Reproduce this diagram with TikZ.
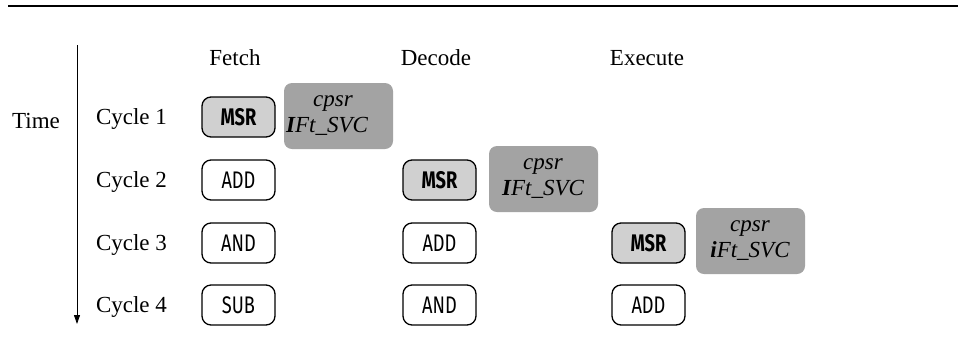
\documentclass[tikz,border=0pt]{standalone}
\usepackage{fontspec}
\setmainfont{Liberation Serif}
\newfontfamily\boxfont[FakeStretch=0.76]{Fira Sans}
\usetikzlibrary{arrows.meta}
\definecolor{msrfill}{HTML}{D0D0D0}
\definecolor{cpsrfill}{HTML}{A3A3A3}
\begin{document}
\begin{tikzpicture}[x=1pt,y=-1pt,
  lbl/.style={font=\fontsize{23}{27}\selectfont, inner sep=0pt},
  instr/.style={draw, line width=1.3pt, rounded corners=9pt, minimum width=73pt, minimum height=40pt, inner sep=0pt, font=\boxfont\fontsize{24}{26}\selectfont},
  msr/.style={instr, fill=msrfill, font=\boxfont\bfseries\fontsize{24}{26}\selectfont},
  cpsrbox/.style={fill=cpsrfill, rounded corners=8pt, minimum width=109pt, minimum height=66pt, inner sep=0pt},
  cpsrtxt/.style={font=\itshape\fontsize{23}{27}\selectfont, align=center, inner sep=0pt}
]
\useasboundingbox (0,0) rectangle (958,360);
% top rule
\coordinate (ruleL) at (8,6);
\coordinate (ruleR) at (958,6);
\draw[line width=1.6pt] (ruleL) -- (ruleR);
% time axis
\coordinate (axTop) at (77,45);
\coordinate (axBot) at (77,324);
\draw[line width=0.9pt, -{Triangle[length=9pt,width=6pt]}] (axTop) -- (axBot);
\node[lbl] (time) at (36,121) {Time};
% headers
\node[lbl] (hF) at (235,58) {Fetch};
\node[lbl] (hD) at (436,58) {Decode};
\node[lbl] (hE) at (647,58) {Execute};
% cycle labels
\node[lbl] (c1) at (131.5,119) {Cycle 1};
\node[lbl] (c2) at (131.5,182) {Cycle 2};
\node[lbl] (c3) at (131.5,245) {Cycle 3};
\node[lbl] (c4) at (131.5,307) {Cycle 4};
% cycle 1
\node[msr] (f1) at (238.5,117) {MSR};
\node[cpsrbox] (p1) at (338.5,116) {};
\node[cpsrtxt] (p1t) at (333,116) {cpsr\\[-1pt]\hspace*{-12pt}{\bfseries I}Ft\_SVC};
% cycle 2
\node[instr] (f2) at (238.5,180) {ADD};
\node[msr] (d2) at (439.5,180) {MSR};
\node[cpsrbox] (p2) at (543.5,179) {};
\node[cpsrtxt] (p2t) at (543,179) {cpsr\\[-1pt]{\bfseries I}Ft\_SVC};
% cycle 3
\node[instr] (f3) at (238.5,243) {AND};
\node[instr] (d3) at (439.5,243) {ADD};
\node[msr] (e3) at (648.5,243) {MSR};
\node[cpsrbox] (p3) at (750.5,241) {};
\node[cpsrtxt] (p3t) at (750,241) {cpsr\\[-1pt]{\bfseries i}Ft\_SVC};
% cycle 4
\node[instr] (f4) at (238.5,305) {SUB};
\node[instr] (d4) at (439.5,305) {AND};
\node[instr] (e4) at (648.5,305) {ADD};
\end{tikzpicture}
\end{document}
